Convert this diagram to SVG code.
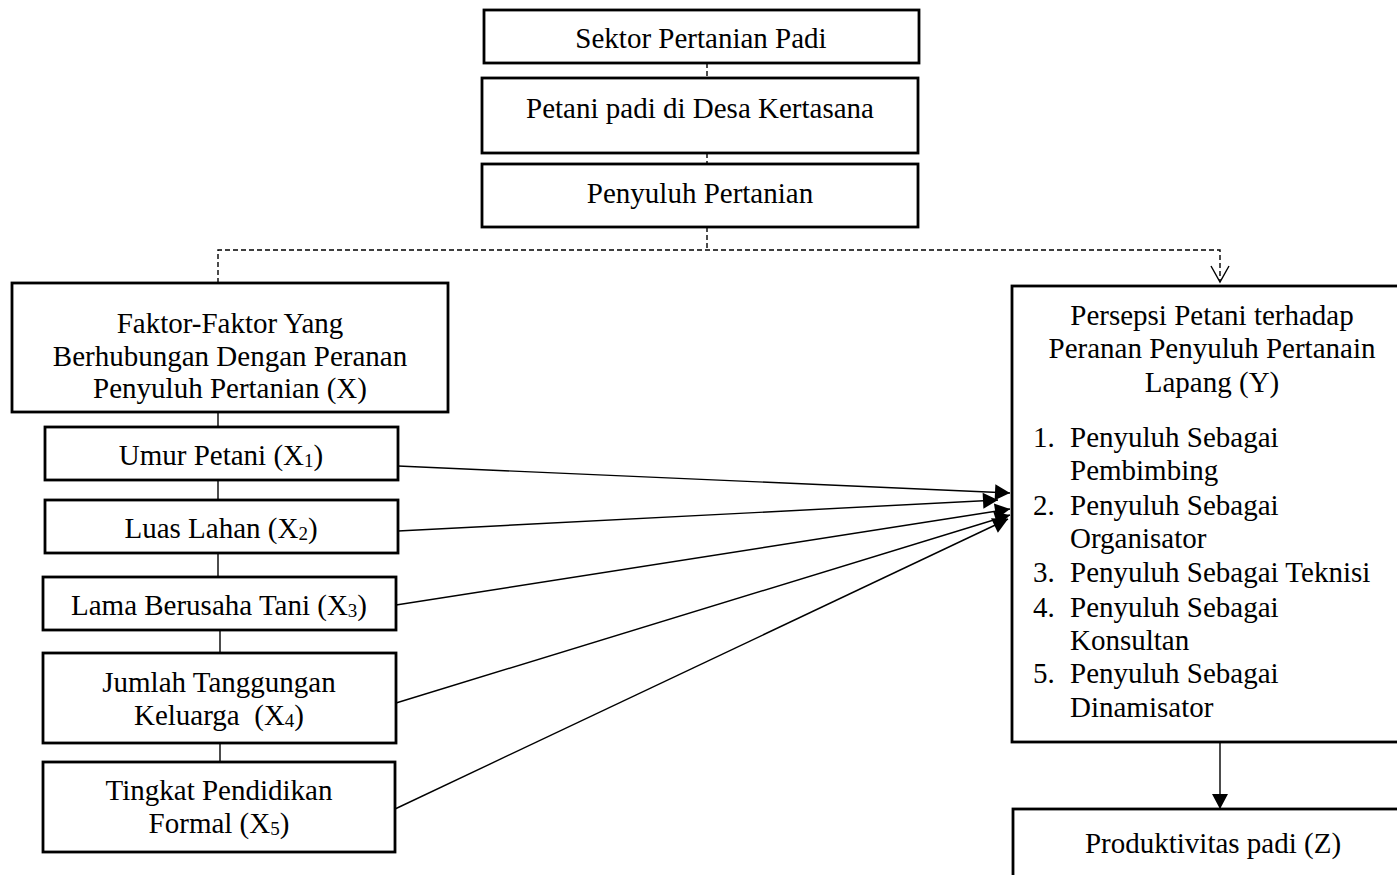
<svg xmlns="http://www.w3.org/2000/svg" width="1397" height="875" viewBox="0 0 1397 875">
<style>
.box{fill:#fff;stroke:#000;stroke-width:2.8}
.t{font-family:"Liberation Serif","Times New Roman",serif;font-size:29px;fill:#000}
.c{text-anchor:middle}
.sub{font-size:19px}
.ln{stroke:#000;stroke-width:1.4;fill:none}
.dash{stroke:#000;stroke-width:1.4;fill:none;stroke-dasharray:5 3}
</style>
<defs>
<marker id="ah" markerUnits="userSpaceOnUse" markerWidth="18" markerHeight="18" viewBox="0 0 18 18" refX="16" refY="9" orient="auto">
<path d="M1,1 L16,9 L1,17 Z" fill="#000"/>
</marker>
<marker id="av" markerUnits="userSpaceOnUse" markerWidth="20" markerHeight="20" viewBox="0 0 20 20" refX="18" refY="10" orient="auto">
<path d="M2,1 L18,10 L2,19" fill="none" stroke="#000" stroke-width="1.4"/>
</marker>
</defs>
<rect width="1397" height="875" fill="#fff"/>
<g id="connectors">
<line class="dash" x1="707" y1="63" x2="707" y2="78"/>
<line class="dash" x1="707" y1="153" x2="707" y2="164"/>
<line class="dash" x1="707" y1="227" x2="707" y2="250"/>
<polyline class="dash" points="218,283 218,250 1220,250 1220,282" marker-end="url(#av)"/>
<line class="ln" x1="218" y1="412" x2="218" y2="427"/>
<line class="ln" x1="218" y1="480" x2="218" y2="500"/>
<line class="ln" x1="218" y1="553" x2="218" y2="577"/>
<line class="ln" x1="220" y1="630" x2="220" y2="653"/>
<line class="ln" x1="220" y1="743" x2="220" y2="762"/>
<line class="ln" x1="398" y1="466" x2="1010" y2="493" marker-end="url(#ah)"/>
<line class="ln" x1="398" y1="531" x2="998" y2="500" marker-end="url(#ah)"/>
<line class="ln" x1="396" y1="605" x2="1010" y2="509" marker-end="url(#ah)"/>
<line class="ln" x1="396" y1="703" x2="1010" y2="515" marker-end="url(#ah)"/>
<line class="ln" x1="395" y1="809" x2="1008" y2="519" marker-end="url(#ah)"/>
<line class="ln" x1="1220" y1="742" x2="1220" y2="809" marker-end="url(#ah)"/>
</g>
<g id="sektor">
<rect class="box" x="484" y="10" width="435" height="53"/>
<text class="t c" x="701" y="48">Sektor Pertanian Padi</text>
</g>
<g id="petani">
<rect class="box" x="482" y="78" width="436" height="75"/>
<text class="t c" x="700" y="118">Petani padi di Desa Kertasana</text>
</g>
<g id="penyuluh">
<rect class="box" x="482" y="164" width="436" height="63"/>
<text class="t c" x="700" y="203">Penyuluh Pertanian</text>
</g>
<g id="faktor">
<rect class="box" x="12" y="283" width="436" height="129"/>
<text class="t c" x="230" y="333">Faktor-Faktor Yang</text>
<text class="t c" x="230" y="366">Berhubungan Dengan Peranan</text>
<text class="t c" x="230" y="398">Penyuluh Pertanian (X)</text>
</g>
<g id="x1">
<rect class="box" x="45" y="427" width="353" height="53"/>
<text class="t c" x="221" y="465">Umur Petani (X<tspan class="sub" dy="2">1</tspan><tspan dy="-2">)</tspan></text>
</g>
<g id="x2">
<rect class="box" x="45" y="500" width="353" height="53"/>
<text class="t c" x="221" y="538">Luas Lahan (X<tspan class="sub" dy="2">2</tspan><tspan dy="-2">)</tspan></text>
</g>
<g id="x3">
<rect class="box" x="43" y="577" width="353" height="53"/>
<text class="t c" x="219" y="615">Lama Berusaha Tani (X<tspan class="sub" dy="2">3</tspan><tspan dy="-2">)</tspan></text>
</g>
<g id="x4">
<rect class="box" x="43" y="653" width="353" height="90"/>
<text class="t c" x="219" y="692">Jumlah Tanggungan</text>
<text class="t c" x="219" y="725" xml:space="preserve">Keluarga  (X<tspan class="sub" dy="2">4</tspan><tspan dy="-2">)</tspan></text>
</g>
<g id="x5">
<rect class="box" x="43" y="762" width="352" height="90"/>
<text class="t c" x="219" y="800">Tingkat Pendidikan</text>
<text class="t c" x="219" y="833">Formal (X<tspan class="sub" dy="2">5</tspan><tspan dy="-2">)</tspan></text>
</g>
<g id="persepsi">
<rect class="box" x="1012" y="286" width="402" height="456"/>
<text class="t c" x="1212" y="325">Persepsi Petani terhadap</text>
<text class="t c" x="1212" y="358">Peranan Penyuluh Pertanain</text>
<text class="t c" x="1212" y="392">Lapang (Y)</text>
<text class="t" x="1033" y="447">1.</text>
<text class="t" x="1070" y="447">Penyuluh Sebagai</text>
<text class="t" x="1070" y="480">Pembimbing</text>
<text class="t" x="1033" y="515">2.</text>
<text class="t" x="1070" y="515">Penyuluh Sebagai</text>
<text class="t" x="1070" y="548">Organisator</text>
<text class="t" x="1033" y="582">3.</text>
<text class="t" x="1070" y="582">Penyuluh Sebagai Teknisi</text>
<text class="t" x="1033" y="617">4.</text>
<text class="t" x="1070" y="617">Penyuluh Sebagai</text>
<text class="t" x="1070" y="650">Konsultan</text>
<text class="t" x="1033" y="683">5.</text>
<text class="t" x="1070" y="683">Penyuluh Sebagai</text>
<text class="t" x="1070" y="717">Dinamisator</text>
</g>
<g id="produktivitas">
<rect class="box" x="1013" y="809" width="401" height="100"/>
<text class="t c" x="1213" y="853">Produktivitas padi (Z)</text>
</g>
</svg>
